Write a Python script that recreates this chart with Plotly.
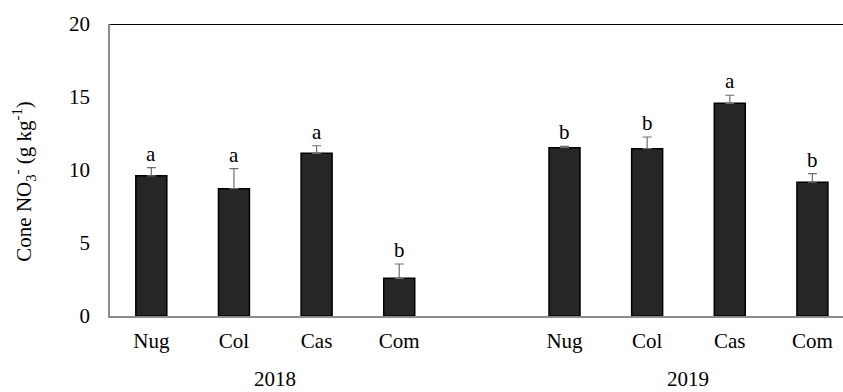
import plotly.graph_objects as go

# Cone nitrate concentration by cultivar and year
cultivars = ["Nug", "Col", "Cas", "Com"]
years = ["2018", "2019"]
values_2018 = [9.6, 8.72, 11.14, 2.58]
errors_2018 = [0.56, 1.38, 0.52, 0.98]
letters_2018 = ["a", "a", "a", "b"]
values_2019 = [11.53, 11.46, 14.57, 9.16]
errors_2019 = [0.09, 0.8, 0.55, 0.59]
letters_2019 = ["b", "b", "a", "b"]

# slot positions: four cultivars per year with an empty slot between years
x_2018 = [0, 1, 2, 3]
x_2019 = [5, 6, 7, 8]
xs = x_2018 + x_2019
vals = values_2018 + values_2019
errs = errors_2018 + errors_2019
letters = letters_2018 + letters_2019
labels = cultivars + cultivars

FONT = "Liberation Serif, Times New Roman, serif"
FS = 21

fig = go.Figure()
fig.add_trace(go.Bar(
    x=xs, y=vals, width=0.375,
    marker=dict(color="#262626", line=dict(color="#000000", width=1.5)),
    error_y=dict(type="data", array=errs, arrayminus=[0] * len(errs),
                 symmetric=False, color="#6e6e6e", thickness=1.2, width=4.5),
    showlegend=False, hoverinfo="skip",
))

for x, v, e, t in zip(xs, vals, errs, letters):
    fig.add_annotation(x=x, y=v + e, text=t, showarrow=False,
                       yanchor="bottom", yshift=0,
                       font=dict(family=FONT, size=FS, color="#000000"))

# year labels under each group
for yr, grp in zip(years, [x_2018, x_2019]):
    fig.add_annotation(x=(grp[1] + grp[2]) / 2, y=0, yref="paper", text=yr,
                       showarrow=False, yanchor="bottom", yshift=-77,
                       font=dict(family=FONT, size=FS, color="#000000"))

# y-axis title, rotated
fig.add_annotation(x=0, xref="paper", xshift=-86, y=0.46, yref="paper",
                   text="Cone NO<sub>3</sub><sup>-</sup> (g kg<sup>-1</sup>)",
                   textangle=-90, showarrow=False,
                   xanchor="center", yanchor="middle",
                   font=dict(family=FONT, size=FS, color="#000000"))

# top border of the plot area
fig.add_shape(type="line", xref="paper", x0=0, x1=1, yref="y", y0=20, y1=20,
              line=dict(color="#000000", width=2))

fig.update_layout(
    width=843, height=392,
    margin=dict(l=110, r=0, t=24, b=76),
    plot_bgcolor="#ffffff", paper_bgcolor="#ffffff",
    font=dict(family=FONT, size=FS, color="#000000"),
    xaxis=dict(range=[-0.5, 8.37], tickvals=xs, ticktext=labels,
               showgrid=False, zeroline=False, showline=True,
               linecolor="#8c8c8c", linewidth=1.5, ticks="",
               ticklabelstandoff=5,
               tickfont=dict(family=FONT, size=FS, color="#000000")),
    yaxis=dict(range=[0, 20], tickvals=[0, 5, 10, 15, 20],
               showgrid=False, zeroline=False, showline=True,
               linecolor="#8c8c8c", linewidth=1.5, ticks="",
               ticklabelstandoff=14,
               tickfont=dict(family=FONT, size=FS, color="#000000")),
)

fig.write_html("out.html")
